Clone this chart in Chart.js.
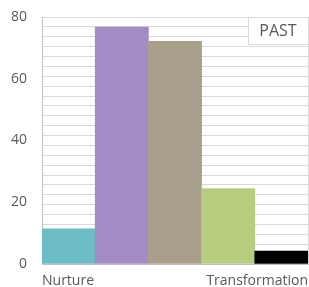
<!DOCTYPE html>
<html>
<head>
<meta charset="utf-8">
<script src="https://cdn.jsdelivr.net/npm/chart.js@4/dist/chart.umd.min.js"></script>
<style>
  html, body { margin: 0; padding: 0; background: #fff; }
  #wrap { width: 309px; height: 287px; }
</style>
</head>
<body>
<div id="wrap"><canvas id="myChart"></canvas></div>
<script>
// data
const categories = ["Nurture", "", "", "", "Transformation"];
const pastValues = [11.4, 76.7, 72.1, 24.4, 4.2];
const yTickLabels = [0, 20, 40, 60, 80];
const seriesName = "PAST";

const barColors = ["#6dbdc7", "#a38cc4", "#a89f8b", "#b7cc7f", "#000000"];
const textColor = "#595959";
const gridColor = "#d9d9d9";

Chart.defaults.font.family = "'Open Sans', 'Noto Sans', sans-serif";
Chart.defaults.font.size = 14;
Chart.defaults.color = textColor;

// white box with the series name in the top right corner
const pastBox = {
  id: "pastBox",
  afterDraw(chart) {
    const { ctx, chartArea } = chart;
    const w = 60, h = 27;
    const x = chartArea.right - w;
    const y = chartArea.top;
    ctx.save();
    ctx.fillStyle = "#fff";
    ctx.fillRect(x, y, w, h);
    ctx.strokeStyle = gridColor;
    ctx.lineWidth = 1;
    ctx.strokeRect(Math.round(x) + 0.5, Math.round(y) + 0.5, w, h);
    ctx.fillStyle = textColor;
    ctx.font = "16px 'Open Sans', sans-serif";
    ctx.textAlign = "center";
    ctx.textBaseline = "middle";
    ctx.fillText(chart.data.datasets[0].label, x + w / 2, y + h / 2 + 1);
    ctx.restore();
  },
};

const ctx = document.getElementById("myChart").getContext("2d");
const myChart = new Chart(ctx, {
  type: "bar",
  data: {
    labels: categories,
    datasets: [
      {
        label: seriesName,
        data: pastValues,
        backgroundColor: barColors,
        borderWidth: 0,
        barPercentage: 1,
        categoryPercentage: 1,
      },
    ],
  },
  options: {
    responsive: true,
    maintainAspectRatio: false,
    animation: false,
    layout: { padding: { top: 17, right: 1, left: 0, bottom: 0 } },
    plugins: { legend: { display: false }, tooltip: { enabled: false } },
    scales: {
      x: { display: false },
      // end labels only, first one left aligned, last one right aligned
      xl: {
        type: "linear",
        position: "bottom",
        offset: false,
        min: 0,
        max: categories.length,
        afterBuildTicks: (axis) => {
          axis.ticks = [{ value: 0 }, { value: categories.length }];
        },
        afterFit: (axis) => {
          axis.height = 23;
          axis.paddingLeft = 0;
          axis.paddingRight = 0;
        },
        ticks: {
          align: "inner",
          padding: 9,
          callback: (v) => (v === 0 ? categories[0] : categories[categories.length - 1]),
        },
        grid: { drawOnChartArea: false, drawTicks: false },
        border: { color: "#bfbfbf" },
      },
      y: {
        position: "left",
        min: 0,
        max: 80,
        afterBuildTicks: (axis) => {
          axis.ticks = yTickLabels.map((v) => ({ value: v }));
        },
        afterFit: (axis) => {
          axis.width = 42;
          axis.paddingTop = 0;
          axis.paddingBottom = 0;
        },
        ticks: { padding: 15 },
        grid: { drawOnChartArea: false, drawTicks: false },
        border: { color: "#bfbfbf" },
      },
      // thin grid lines + right border
      yGrid: {
        position: "right",
        min: 0,
        max: 80,
        afterBuildTicks: (axis) => {
          const n = 25;
          axis.ticks = [];
          for (let i = 0; i <= n; i++) axis.ticks.push({ value: (80 * i) / n });
        },
        afterFit: (axis) => {
          axis.width = 0;
          axis.paddingTop = 0;
          axis.paddingBottom = 0;
        },
        ticks: { display: false },
        grid: { color: gridColor, drawTicks: false },
        border: { color: gridColor },
      },
    },
  },
  plugins: [pastBox],
});
</script>
</body>
</html>
